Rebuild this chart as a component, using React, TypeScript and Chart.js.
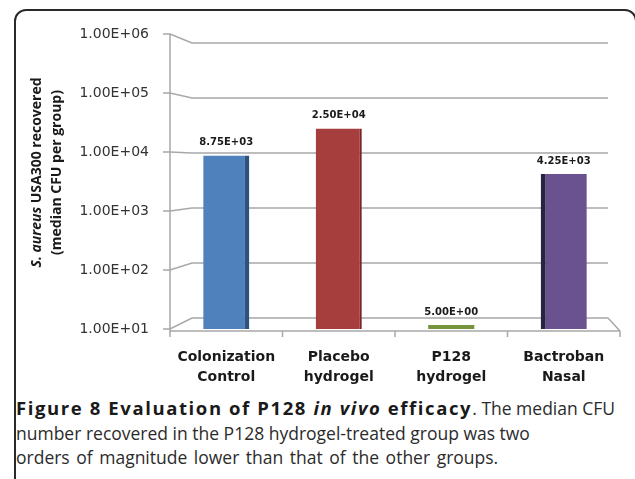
import React, { useEffect, useRef } from "react";
import { Chart, registerables } from "chart.js";

Chart.register(...registerables);

// ---- data ----
const categories: string[][] = [
  ["Colonization", "Control"],
  ["Placebo", "hydrogel"],
  ["P128", "hydrogel"],
  ["Bactroban", "Nasal"],
];
const medianCFU: number[] = [8750, 25000, 5, 4250];
const yTickValues: number[] = [10, 100, 1000, 10000, 100000, 1000000];
const yMin = 10;
const yMax = 1000000;

// ---- styles ----
const barColors = ["#4f81bd", "#a63e3d", "#77933c", "#6a5190"];
const sideColors = ["#2c5282", "#7a2827", "#4f6428", "#2b2140"];

function formatSci(v: number): string {
  const [m, e] = v.toExponential(2).split("e");
  const n = parseInt(e, 10);
  return `${m}E${n < 0 ? "-" : "+"}${String(Math.abs(n)).padStart(2, "0")}`;
}

const frame3d = {
  id: "frame3d",
  beforeDatasetsDraw(chart: any) {
    const { ctx, chartArea: a, scales } = chart;
    const x = scales.x;
    const y = scales.y;
    const depthX = 22;
    const k = 0.932;
    const c = a.top + 0.45 * (a.bottom - a.top);
    const backRight = a.right - 12;
    ctx.save();
    ctx.strokeStyle = "#a8a8a8";
    ctx.lineWidth = 1.5;
    for (const t of yTickValues) {
      const fy = y.getPixelForValue(t);
      const by = c + (fy - c) * k;
      ctx.beginPath();
      ctx.moveTo(a.left - 7, fy);
      ctx.lineTo(a.left, fy);
      ctx.lineTo(a.left + depthX, by);
      ctx.lineTo(backRight, by);
      ctx.stroke();
    }
    const floorY = a.bottom + 2;
    const backBottom = c + (y.getPixelForValue(yMin) - c) * k;
    ctx.beginPath();
    ctx.moveTo(a.left, a.top);
    ctx.lineTo(a.left, floorY);
    ctx.lineTo(a.right, floorY);
    ctx.moveTo(backRight, backBottom);
    ctx.lineTo(a.right, floorY);
    ctx.stroke();
    const n = categories.length;
    const step = (x.getPixelForValue(n - 1) - x.getPixelForValue(0)) / (n - 1);
    for (let i = 0; i <= n; i++) {
      const bx = x.getPixelForValue(0) + (i - 0.5) * step;
      ctx.beginPath();
      ctx.moveTo(bx, floorY);
      ctx.lineTo(bx, floorY + 6);
      ctx.stroke();
    }
    ctx.restore();
  },
};

const valueLabels = {
  id: "valueLabels",
  afterDatasetsDraw(chart: any) {
    const { ctx } = chart;
    const meta = chart.getDatasetMeta(0);
    ctx.save();
    ctx.font = "bold 10px 'DejaVu Sans'";
    ctx.fillStyle = "#1a1a1a";
    ctx.textAlign = "center";
    ctx.textBaseline = "middle";
    meta.data.forEach((bar: any, i: number) => {
      ctx.fillText(formatSci(medianCFU[i]), bar.x, bar.y - 13);
    });
    ctx.restore();
  },
};

const yTitle = {
  id: "yTitle",
  afterDraw(chart: any) {
    const { ctx, chartArea: a } = chart;
    const cy = (a.top + a.bottom) / 2 - 9;
    ctx.save();
    ctx.fillStyle = "#1a1a1a";
    ctx.textBaseline = "middle";
    ctx.translate(0, cy);
    ctx.rotate(-Math.PI / 2);
    const it = "italic bold 14px 'Open Sans'";
    const bd = "bold 14px 'Open Sans'";
    const p1 = "S. aureus";
    const p2 = " USA300 recovered";
    ctx.font = it;
    const w1 = ctx.measureText(p1).width;
    ctx.font = bd;
    const w2 = ctx.measureText(p2).width;
    const sx = -(w1 + w2) / 2;
    ctx.textAlign = "left";
    ctx.font = it;
    ctx.fillText(p1, sx, 37);
    ctx.font = bd;
    ctx.fillText(p2, sx + w1, 37);
    ctx.textAlign = "center";
    ctx.fillText("(median CFU per group)", 0, 57);
    ctx.restore();
  },
};

export default function App() {
  const ref = useRef<HTMLCanvasElement | null>(null);

  useEffect(() => {
    if (!ref.current) return;
    const chart = new Chart(ref.current, {
      type: "bar",
      data: {
        labels: categories,
        datasets: [
          {
            data: medianCFU.map((v) => Math.max(v, yMin)),
            backgroundColor: barColors,
            borderColor: sideColors,
            borderWidth: [{ right: 5 }, { right: 2 }, {}, { left: 5 }] as any,
            borderSkipped: false,
            minBarLength: 4,
            barPercentage: 0.41,
            categoryPercentage: 1,
          },
        ],
      },
      options: {
        animation: false,
        responsive: false,
        maintainAspectRatio: false,
        layout: { padding: { left: 0, right: 15, top: 34, bottom: 0 } },
        plugins: {
          legend: { display: false },
          tooltip: { enabled: false },
        },
        scales: {
          x: {
            type: "category",
            grid: { display: false, drawTicks: false },
            border: { display: false },
            ticks: {
              font: { family: "'DejaVu Sans'", weight: "bold", size: 14, lineHeight: 1.43 },
              color: "#1a1a1a",
              padding: 18,
              maxRotation: 0,
              autoSkip: false,
            },
            afterFit: (s: any) => {
              s.height = 66;
            },
          },
          y: {
            type: "logarithmic",
            min: yMin,
            max: yMax,
            grid: { display: false, drawTicks: false },
            border: { display: false },
            ticks: {
              font: { family: "'DejaVu Sans'", size: 14 },
              color: "#333333",
              padding: 21,
              callback: (v: any) => formatSci(Number(v)),
            },
            afterBuildTicks: (s: any) => {
              s.ticks = yTickValues.map((v) => ({ value: v }));
            },
            afterFit: (s: any) => {
              s.width = 170;
            },
          },
        },
      },
      plugins: [frame3d, valueLabels, yTitle],
    } as any);
    return () => chart.destroy();
  }, []);

  return (
    <div
      style={{
        position: "fixed",
        left: 0,
        top: 0,
        width: 635,
        height: 479,
        overflow: "hidden",
        background: "#ffffff",
      }}
    >
      <div
        style={{
          position: "absolute",
          left: 14,
          top: 9,
          width: 623,
          height: 520,
          boxSizing: "border-box",
          border: "2px solid #2a2a2a",
          borderRadius: 12,
        }}
      />
      <canvas
        ref={ref}
        width={635}
        height={395}
        style={{ position: "absolute", left: 0, top: 0, display: "block" }}
      />
      <div
        style={{
          position: "absolute",
          left: 16,
          top: 396,
          fontFamily: "'Open Sans', sans-serif",
          fontSize: 17.5,
          lineHeight: "24.5px",
          color: "#2b2b2b",
          whiteSpace: "nowrap",
        }}
      >
        <div>
          <b style={{ letterSpacing: "1.6px", fontSize: 18.5, color: "#1a1a1a" }}>
            Figure 8 Evaluation of P128 <i>in vivo</i> efficacy
          </b>
          . The median CFU
        </div>
        <div>number recovered in the P128 hydrogel-treated group was two</div>
        <div style={{ wordSpacing: "2px" }}>
          orders of magnitude lower than that of the other groups.
        </div>
      </div>
    </div>
  );
}
